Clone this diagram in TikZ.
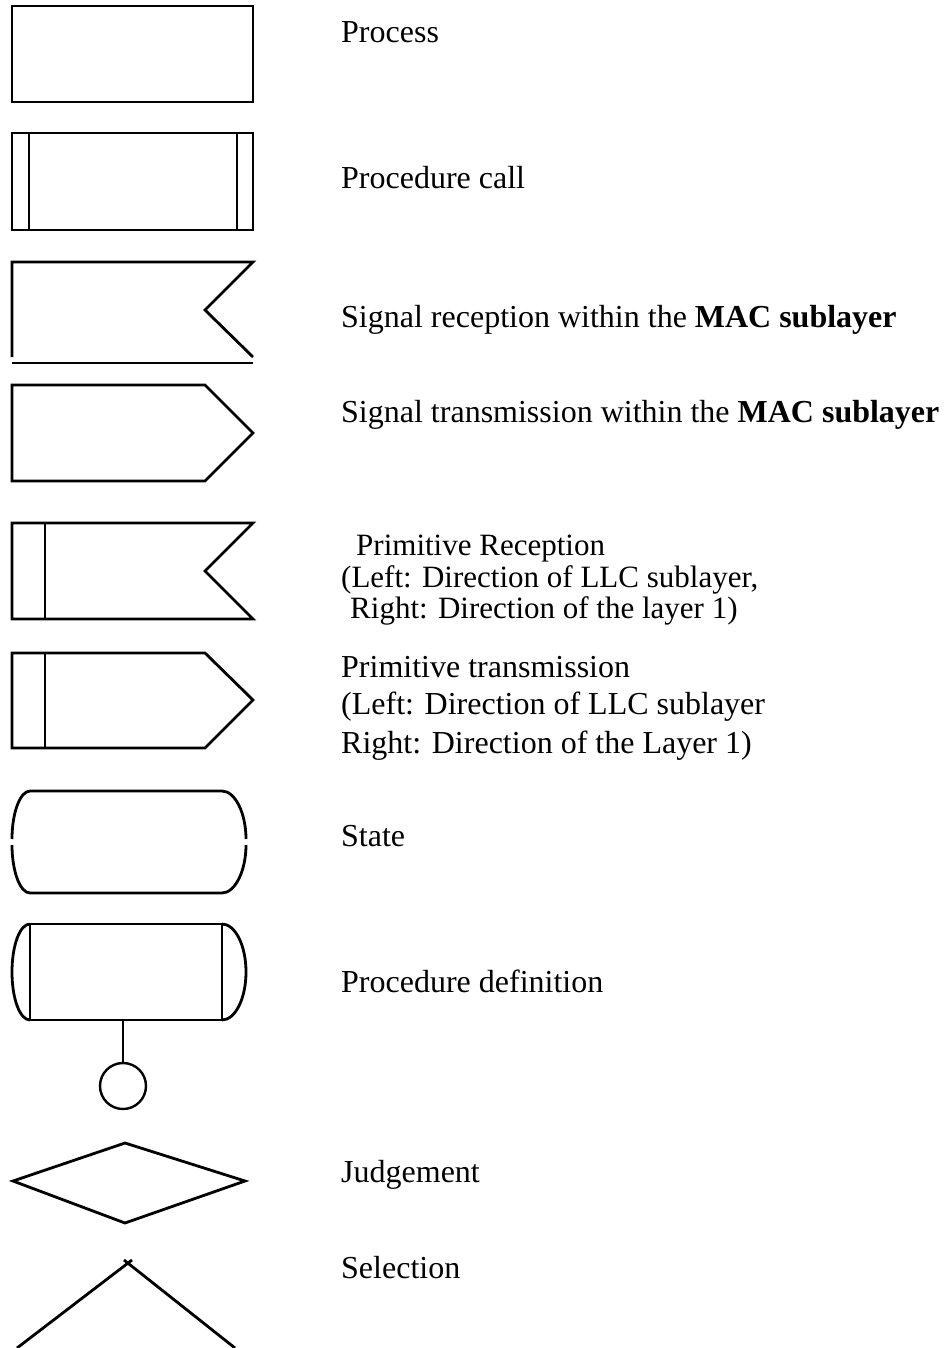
\documentclass[tikz,border=0pt]{standalone}
\usepackage{fontspec}
\setmainfont{Liberation Serif}
\begin{document}
\begin{tikzpicture}[x=1pt,y=-1pt,
  shp/.style={draw=black,line width=2.8pt,line join=miter},
  thin/.style={draw=black,line width=2.3pt},
  lbl/.style={anchor=base west,inner sep=0pt,font=\fontsize{32}{34}\selectfont},
  lbls/.style={anchor=base west,inner sep=0pt,font=\fontsize{31}{33}\selectfont}]
\useasboundingbox (0,0) rectangle (947,1348);
% Process
\draw[shp] (12,6) rectangle (253,102);
% Procedure call
\draw[shp] (12,133) rectangle (253,230);
\draw[thin] (29,133) -- (29,230) (237,133) -- (237,230);
% Signal reception
\draw[shp] (12,357) -- (12,262) -- (253,262) -- (205,310) -- (253,357);
\draw[shp] (12,363) -- (253,363);
% Signal transmission
\draw[shp] (12,481) -- (12,385) -- (205,385) -- (253,433) -- (205,481) -- cycle;
% Primitive reception
\draw[shp] (12,523) -- (253,523) -- (205,571) -- (253,619) -- (12,619) -- cycle;
\draw[thin] (45,523) -- (45,619);
% Primitive transmission
\draw[shp] (12,653) -- (205,653) -- (253,700) -- (205,748) -- (12,748) -- cycle;
\draw[thin] (45,653) -- (45,748);
% State
\draw[shp] (12,839) .. controls (12,813) and (20,791) .. (30,791) -- (222,791)
  .. controls (235,791) and (246,813) .. (246,839);
\draw[shp] (246,845) .. controls (246,871) and (235,893) .. (222,893) -- (30,893)
  .. controls (20,893) and (12,871) .. (12,845);
% Procedure definition
\draw[shp] (30,924) rectangle (222,1020);
\draw[shp] (30,924) .. controls (20,924) and (12,945) .. (12,972) .. controls (12,999) and (20,1020) .. (30,1020);
\draw[shp] (222,924) .. controls (235,924) and (246,945) .. (246,972) .. controls (246,999) and (235,1020) .. (222,1020);
\coordinate (pdb) at (123,1020);
\node[circle,draw=black,line width=2.4pt,minimum size=46pt,inner sep=0pt] (circ) at (123,1086) {};
\draw[thin] (pdb) -- (circ.north);
% Judgement
\draw[shp] (125,1143) -- (245,1181) -- (125,1223) -- (13,1181) -- cycle;
% Selection
\draw[shp] (17,1348) -- (132,1260);
\draw[shp] (124,1260) -- (235,1348);
% labels
\node[lbl] (t1) at (341,43) {Process};
\node[lbl] (t2) at (341,189) {Procedure call};
\node[lbl] (t3) at (341,327) {Signal reception within the \textbf{MAC sublayer}};
\node[lbl] (t4) at (341,422) {Signal transmission within the \textbf{MAC sublayer}};
\node[lbls] (t5a) at (356,555) {Primitive Reception};
\node[lbls] (t5b) at (341,587) {(Left: Direction of LLC sublayer,};
\node[lbls] (t5c) at (350,618) {Right: Direction of the layer 1)};
\node[lbl] (t6a) at (341,677) {Primitive transmission};
\node[lbl] (t6b) at (341,714) {(Left: Direction of LLC sublayer};
\node[lbl] (t6c) at (341,753) {Right: Direction of the Layer 1)};
\node[lbl] (t7) at (341,846) {State};
\node[lbl] (t8) at (341,992) {Procedure definition};
\node[lbl] (t9) at (341,1182) {Judgement};
\node[lbl] (t10) at (341,1278) {Selection};
\end{tikzpicture}
\end{document}
